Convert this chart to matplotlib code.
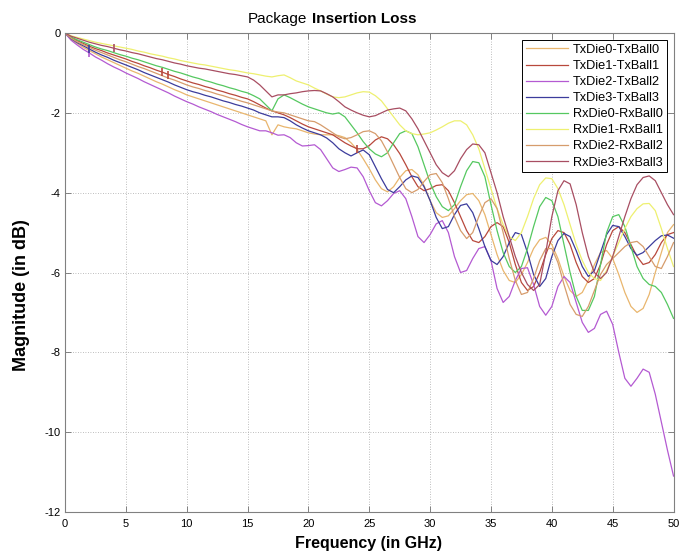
import matplotlib
matplotlib.use('Agg')
import matplotlib.pyplot as plt
import numpy as np

# frequency grid (GHz), 0.5 GHz steps
freq = np.arange(0, 50.01, 0.5)

# insertion loss traces (dB)
tx_die0 = [0, -0.16, -0.26, -0.36, -0.44, -0.52, -0.60, -0.67, -0.74, -0.81, -0.88,
           -0.95, -1.01, -1.08, -1.15, -1.22, -1.28, -1.35, -1.42, -1.48, -1.55,
           -1.60, -1.65, -1.70, -1.75, -1.80, -1.85, -1.90, -1.95, -2.00, -2.05,
           -2.1, -2.15, -2.2, -2.55, -2.3, -2.35, -2.38, -2.4, -2.45, -2.5,
           -2.53, -2.55, -2.55, -2.55, -2.57, -2.62, -2.75, -2.92, -3.15, -3.4,
           -3.68, -3.9, -3.98, -3.85, -3.62, -3.45, -3.42, -3.55, -3.82, -4.2,
           -4.5, -4.62, -4.58, -4.4, -4.2, -4.05, -4.02, -4.2, -4.55, -5.05,
           -5.55, -5.95, -6.2, -6.25, -6.05, -5.75, -5.4, -5.18, -5.12, -5.3,
           -5.65, -6.1, -6.45, -6.6, -6.5, -6.2, -5.8, -5.5, -5.45, -5.65,
           -6.05, -6.5, -6.85, -7.0, -6.9, -6.55, -6.0, -5.5, -5.0, -4.8]
tx_die1 = [0, -0.12, -0.19, -0.26, -0.33, -0.39, -0.44, -0.50, -0.55, -0.60, -0.65,
           -0.71, -0.76, -0.82, -0.87, -0.93, -0.98, -1.04, -1.09, -1.15, -1.20,
           -1.25, -1.29, -1.34, -1.38, -1.43, -1.47, -1.52, -1.56, -1.61, -1.65,
           -1.72, -1.8, -1.88, -1.95, -2.0, -2.05, -2.12, -2.2, -2.28, -2.35,
           -2.4, -2.45, -2.5, -2.55, -2.65, -2.75, -2.83, -2.9, -2.9, -2.82,
           -2.68, -2.6, -2.65, -2.8, -3.02, -3.3, -3.6, -3.85, -3.95, -3.9,
           -3.82, -3.8, -3.95, -4.25, -4.6, -4.95, -5.2, -5.25, -5.1, -4.85,
           -4.75, -4.85, -5.25, -5.8, -6.25, -6.45, -6.35, -6.0, -5.55, -5.15,
           -4.95, -5.0, -5.3, -5.75, -6.1, -6.25, -6.15, -5.8, -5.3, -4.95,
           -4.85, -5.0, -5.3, -5.6, -5.8, -5.75, -5.55, -5.25, -5.05, -5.0]
tx_die2 = [0, -0.18, -0.30, -0.41, -0.50, -0.60, -0.68, -0.77, -0.85, -0.92, -1.00,
           -1.07, -1.14, -1.22, -1.29, -1.36, -1.43, -1.50, -1.58, -1.65, -1.72,
           -1.78, -1.85, -1.91, -1.97, -2.04, -2.10, -2.16, -2.22, -2.29, -2.35,
           -2.4, -2.45, -2.45, -2.5, -2.56, -2.55, -2.62, -2.75, -2.83, -2.82,
           -2.8, -2.92, -3.15, -3.38, -3.47, -3.42, -3.36, -3.38, -3.6, -3.95,
           -4.25, -4.33, -4.2, -4.02, -3.95, -4.15, -4.6, -5.1, -5.25, -5.05,
           -4.78, -4.7, -5.0, -5.6, -6.0, -5.95, -5.65, -5.4, -5.35, -5.7,
           -6.4, -6.75, -6.6, -6.2, -5.9, -5.88, -6.3, -6.85, -7.07, -6.85,
           -6.35, -6.1, -6.25, -6.75, -7.25, -7.5, -7.4, -7.05, -6.97, -7.3,
           -8.0, -8.65, -8.85, -8.65, -8.42, -8.5, -9.05, -9.75, -10.45, -11.1]
tx_die3 = [0, -0.14, -0.24, -0.32, -0.40, -0.48, -0.55, -0.61, -0.68, -0.74, -0.80,
           -0.86, -0.92, -0.99, -1.05, -1.11, -1.17, -1.23, -1.30, -1.36, -1.42,
           -1.47, -1.51, -1.56, -1.60, -1.65, -1.70, -1.74, -1.79, -1.83, -1.88,
           -1.93, -2.0, -2.05, -2.1, -2.1, -2.12, -2.2, -2.3, -2.38, -2.45,
           -2.5, -2.55, -2.63, -2.75, -2.9, -3.0, -3.08, -3.0, -2.93, -3.05,
           -3.35, -3.65, -3.92, -4.0, -3.85, -3.68, -3.58, -3.62, -3.85, -4.2,
           -4.62, -4.9, -4.85, -4.55, -4.32, -4.28, -4.5, -4.9, -5.35, -5.7,
           -5.8, -5.6, -5.25, -5.0, -5.05, -5.5, -6.05, -6.35, -6.15, -5.6,
           -5.2, -5.02, -5.1, -5.45, -5.85, -6.1, -5.95, -5.5, -5.05, -4.82,
           -4.85, -5.1, -5.4, -5.57, -5.5, -5.35, -5.2, -5.08, -5.06, -5.14]
rx_die0 = [0, -0.10, -0.17, -0.23, -0.29, -0.35, -0.40, -0.44, -0.49, -0.54, -0.58,
           -0.63, -0.67, -0.72, -0.77, -0.82, -0.86, -0.91, -0.96, -1.00, -1.05,
           -1.10, -1.14, -1.19, -1.23, -1.28, -1.32, -1.37, -1.41, -1.46, -1.50,
           -1.57, -1.65, -1.8, -1.95, -1.65, -1.55, -1.62, -1.7, -1.78, -1.85,
           -1.9, -1.95, -2.0, -2.03, -2.0, -2.1, -2.3, -2.5, -2.72, -2.9,
           -3.03, -3.1, -3.0, -2.75, -2.52, -2.45, -2.52, -2.85, -3.3, -3.75,
           -4.1, -4.35, -4.45, -4.3, -3.85, -3.45, -3.22, -3.25, -3.6, -4.3,
           -4.95, -5.5, -5.85, -6.0, -5.85, -5.4, -4.85, -4.35, -4.12, -4.2,
           -4.6, -5.3, -6.0, -6.6, -6.95, -6.95, -6.6, -5.8, -5.0, -4.6,
           -4.55, -4.85, -5.35, -5.85, -6.15, -6.3, -6.35, -6.5, -6.8, -7.15]
rx_die1 = [0, -0.07, -0.11, -0.15, -0.19, -0.23, -0.26, -0.29, -0.32, -0.35, -0.38,
           -0.41, -0.45, -0.48, -0.52, -0.55, -0.58, -0.62, -0.65, -0.69, -0.72,
           -0.75, -0.78, -0.80, -0.83, -0.86, -0.89, -0.92, -0.94, -0.97, -1.00,
           -1.02, -1.05, -1.08, -1.1, -1.07, -1.05, -1.12, -1.2, -1.25, -1.3,
           -1.38, -1.45, -1.53, -1.6, -1.62, -1.6, -1.55, -1.5, -1.47, -1.48,
           -1.57, -1.7, -1.9, -2.1, -2.3, -2.45, -2.52, -2.55, -2.53, -2.5,
           -2.43, -2.35, -2.26, -2.2, -2.2, -2.3, -2.55, -2.9, -3.4, -3.9,
           -4.4, -4.8, -5.1, -5.2, -5.0, -4.6, -4.15, -3.8, -3.63, -3.65,
           -3.9, -4.3, -4.8, -5.3, -5.7, -6.0, -6.15, -6.2, -5.95, -5.6,
           -5.25, -4.9, -4.6, -4.4, -4.28, -4.27, -4.45, -4.9, -5.4, -5.85]
rx_die2 = [0, -0.13, -0.22, -0.29, -0.36, -0.43, -0.49, -0.55, -0.61, -0.67, -0.72,
           -0.78, -0.84, -0.89, -0.95, -1.01, -1.07, -1.13, -1.18, -1.24, -1.30,
           -1.35, -1.39, -1.44, -1.48, -1.53, -1.57, -1.62, -1.66, -1.71, -1.75,
           -1.8, -1.85, -1.9, -1.95, -1.98, -2.0, -2.05, -2.1, -2.15, -2.2,
           -2.22, -2.3, -2.4, -2.5, -2.6, -2.65, -2.62, -2.55, -2.47, -2.45,
           -2.52, -2.7, -2.98, -3.3, -3.62, -3.9, -4.0, -3.92, -3.72, -3.55,
           -3.52, -3.75, -4.15, -4.6, -4.95, -5.15, -5.0, -4.6, -4.25, -4.15,
           -4.4, -5.0, -5.65, -6.2, -6.55, -6.5, -6.15, -5.7, -5.4, -5.4,
           -5.75, -6.3, -6.8, -7.05, -7.1, -6.85, -6.45, -6.05, -5.8, -5.65,
           -5.5, -5.35, -5.25, -5.22, -5.35, -5.6, -5.85, -5.9, -5.6, -5.25]
rx_die3 = [0, -0.08, -0.13, -0.18, -0.23, -0.27, -0.31, -0.34, -0.38, -0.42, -0.45,
           -0.49, -0.52, -0.56, -0.60, -0.64, -0.67, -0.71, -0.75, -0.78, -0.82,
           -0.85, -0.88, -0.90, -0.93, -0.96, -0.99, -1.02, -1.04, -1.07, -1.10,
           -1.18, -1.3, -1.45, -1.6, -1.55, -1.55, -1.52, -1.5, -1.47, -1.45,
           -1.44, -1.45, -1.52, -1.6, -1.72, -1.85, -1.93, -2.0, -2.06, -2.1,
           -2.07, -2.0, -1.93, -1.9, -1.88, -1.95, -2.15, -2.4, -2.7, -3.0,
           -3.3, -3.5, -3.6, -3.45, -3.15, -2.92, -2.78, -2.8, -3.0, -3.5,
           -4.0, -4.6, -5.1, -5.6, -6.0, -6.3, -6.45, -6.3, -5.5, -4.6,
           -3.95, -3.7, -3.78, -4.3, -5.0, -5.6, -6.0, -6.15, -6.0, -5.6,
           -5.1, -4.6, -4.15, -3.8, -3.62, -3.58, -3.7, -4.0, -4.3, -4.55]

labels = ['TxDie0-TxBall0', 'TxDie1-TxBall1', 'TxDie2-TxBall2', 'TxDie3-TxBall3',
          'RxDie0-RxBall0', 'RxDie1-RxBall1', 'RxDie2-RxBall2', 'RxDie3-RxBall3']
traces = [tx_die0, tx_die1, tx_die2, tx_die3, rx_die0, rx_die1, rx_die2, rx_die3]
colors = ['#e9b66e', '#b8483c', '#b45ad2', '#3c3c9c',
          '#55c860', '#eef070', '#d69c6c', '#a84e62']

# data cursor ticks seen on a few traces (trace index, point index)
cursors = [(2, 4), (3, 4), (7, 8), (1, 16), (1, 17), (1, 48)]

plt.rcParams['font.family'] = ['Liberation Sans', 'DejaVu Sans']
plt.rcParams['axes.unicode_minus'] = False

fig = plt.figure(figsize=(6.8, 5.55), dpi=100)
ax = fig.add_axes([0.0956, 0.0775, 0.8949, 0.863])

for y, c, lab in zip(traces, colors, labels):
    ax.plot(freq, y, color=c, lw=0.9, label=lab)

for ti, pi in cursors:
    ax.plot(freq[pi], traces[ti][pi], marker='|', ms=6, mew=1.2, color=colors[ti])

ax.set_xlim(0, 50)
ax.set_ylim(-12, 0)
ax.set_xticks(np.arange(0, 51, 5))
ax.set_yticks(np.arange(-12, 1, 2))
ax.grid(True, ls=(0, (1, 2)), color='#a8a8a8', lw=0.6)
ax.tick_params(direction='in', length=4, width=0.6, color='#707070',
               top=True, right=True, labelsize=8, pad=3)
ax.tick_params(axis='x', pad=5)
for s in ax.spines.values():
    s.set_color('#808080')
    s.set_linewidth(0.8)

ax.set_xlabel('Frequency (in GHz)', fontsize=11.5, fontweight='bold')
ax.set_ylabel('Magnitude (in dB)', fontsize=13, fontweight='bold')
ax.xaxis.set_label_coords(0.498, -0.05)
ax.yaxis.set_label_coords(-0.058, 0.452)

fig.text(0.451, 0.966, 'Package', ha='right', va='center', fontsize=11)
fig.text(0.459, 0.966, 'Insertion Loss', ha='left', va='center', fontsize=11, fontweight='bold')

leg = ax.legend(loc='upper right', fontsize=9.2, frameon=True, fancybox=False,
                edgecolor='black', framealpha=1, handlelength=3.3,
                handletextpad=0.4, labelspacing=0.32, borderpad=0.3,
                borderaxespad=0.55)
leg.get_frame().set_linewidth(0.7)

fig.savefig('out.png', dpi=100)
